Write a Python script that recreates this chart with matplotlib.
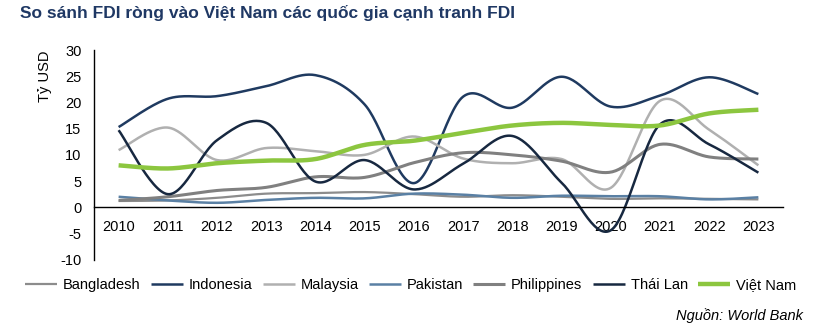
import numpy as np
import matplotlib
matplotlib.use("Agg")
import matplotlib.pyplot as plt

plt.rcParams['font.family'] = ['Liberation Sans', 'DejaVu Sans']
plt.rcParams['axes.unicode_minus'] = False

years = list(range(2010, 2024))

bangladesh = [1.2, 1.3, 1.8, 2.6, 2.7, 2.9, 2.5, 2.0, 2.3, 2.0, 1.6, 1.7, 1.6, 1.5]
indonesia = [15.3, 20.7, 21.2, 23.1, 25.2, 19.6, 4.6, 21.1, 19.0, 24.9, 19.2, 21.3, 24.8, 21.6]
malaysia = [10.9, 15.2, 9.0, 11.3, 10.7, 10.0, 13.5, 9.3, 8.4, 9.2, 3.7, 20.3, 14.8, 8.0]
pakistan = [2.0, 1.3, 0.85, 1.4, 1.8, 1.7, 2.6, 2.4, 1.8, 2.2, 2.1, 2.1, 1.5, 1.9]
philippines = [1.3, 2.0, 3.2, 3.8, 5.8, 5.7, 8.5, 10.4, 10.0, 8.8, 6.7, 12.0, 9.6, 9.2]
thailand = [14.7, 2.5, 12.8, 16.1, 4.9, 9.0, 3.4, 8.3, 13.6, 4.7, -4.4, 15.8, 12.0, 6.6]
vietnam = [8.0, 7.4, 8.4, 8.9, 9.2, 11.9, 12.7, 14.2, 15.6, 16.1, 15.7, 15.6, 17.9, 18.6]

series = [
    ("Bangladesh", bangladesh, "#8c8c8c", 1.6),
    ("Indonesia", indonesia, "#1f3a60", 1.8),
    ("Malaysia", malaysia, "#b0b0b0", 1.8),
    ("Pakistan", pakistan, "#5a80a4", 1.8),
    ("Philippines", philippines, "#808080", 2.2),
    ("Thái Lan", thailand, "#172840", 1.8),
    ("Việt Nam", vietnam, "#8cc63f", 3.2),
]


def smooth(xs, ys, n=30):
    """Catmull-Rom style smoothing (as in spreadsheet 'smoothed line')."""
    xs = np.asarray(xs, float)
    ys = np.asarray(ys, float)
    px = np.concatenate([[xs[0]], xs, [xs[-1]]])
    py = np.concatenate([[ys[0]], ys, [ys[-1]]])
    out_x, out_y = [], []
    t = np.linspace(0, 1, n, endpoint=False)
    for i in range(1, len(px) - 2):
        p0 = np.array([px[i], py[i]])
        p3 = np.array([px[i + 1], py[i + 1]])
        c1 = p0 + (np.array([px[i + 1], py[i + 1]]) - np.array([px[i - 1], py[i - 1]])) / 6
        c2 = p3 - (np.array([px[i + 2], py[i + 2]]) - np.array([px[i], py[i]])) / 6
        b = ((1 - t) ** 3)[:, None] * p0 + (3 * (1 - t) ** 2 * t)[:, None] * c1 \
            + (3 * (1 - t) * t ** 2)[:, None] * c2 + (t ** 3)[:, None] * p3
        out_x.extend(b[:, 0])
        out_y.extend(b[:, 1])
    out_x.append(xs[-1])
    out_y.append(ys[-1])
    return np.array(out_x), np.array(out_y)


fig = plt.figure(figsize=(8.21, 3.29), dpi=100)
ax = fig.add_axes([0.1145, 0.2107, 0.8392, 0.6373])

x = np.arange(len(years))
for name, vals, color, lw in series:
    sx, sy = smooth(x, vals)
    ax.plot(sx, sy, color=color, lw=lw, label=name, solid_capstyle='butt')

ax.set_xlim(-0.5, len(years) - 0.5)
ax.set_ylim(-10, 30)
ax.set_yticks(range(-10, 31, 5))
ax.set_xticks(x)
ax.set_xticklabels([str(y) for y in years])

for s in ['top', 'right']:
    ax.spines[s].set_visible(False)
ax.spines['bottom'].set_position(('data', 0))
ax.spines['left'].set_color('black')
ax.spines['bottom'].set_color('black')
ax.spines['left'].set_linewidth(1.0)
ax.spines['bottom'].set_linewidth(1.0)
ax.tick_params(axis='both', length=0, labelsize=10.5, colors='black')
ax.tick_params(axis='x', pad=9)
ax.tick_params(axis='y', pad=9)

fig.text(45 / 821, 1 - 76 / 329, "Tỷ USD", rotation=90, ha='center', va='center',
         fontsize=10.5, color='black')

fig.text(20 / 821, 1 - 13 / 329, "So sánh FDI ròng vào Việt Nam các quốc gia cạnh tranh FDI",
         fontsize=12.5, fontweight='bold', color='#1f3864', ha='left', va='center')

leg = fig.legend(loc='center', bbox_to_anchor=(0.5, 1 - 285 / 329), ncol=7, frameon=False,
                 fontsize=10.5, handlelength=2.2, handletextpad=0.4, columnspacing=0.7,
                 borderaxespad=0, borderpad=0)

fig.text(803 / 821, 1 - 316 / 329, "Nguồn: World Bank", fontsize=10.5, style='italic',
         ha='right', va='center', color='black')

fig.savefig("out.png", dpi=100)
